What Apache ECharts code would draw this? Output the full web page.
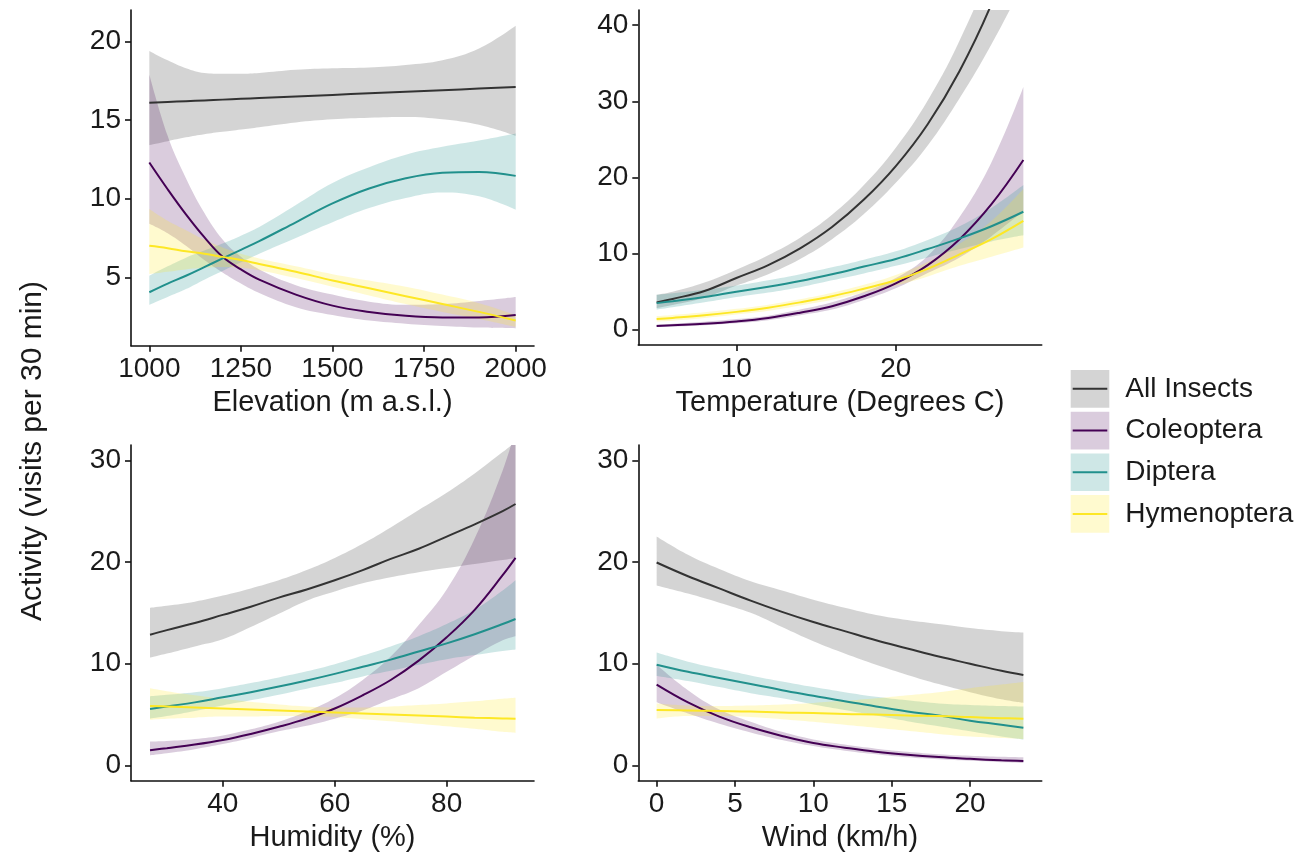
<!DOCTYPE html>
<html>
<head>
<meta charset="utf-8">
<script src="https://cdn.jsdelivr.net/npm/echarts@6/dist/echarts.min.js"></script>
<style>html,body{margin:0;padding:0;background:#fff}#chart{width:1315px;height:859px}</style>
</head>
<body>
<div id="chart"></div>
<script>
// ---------- groups ----------
const groups = ['All Insects', 'Coleoptera', 'Diptera', 'Hymenoptera'];

// ---------- Panel 1: Elevation ----------
const elevX = [1000, 1050, 1100, 1150, 1200, 1250, 1300, 1400, 1500, 1600, 1700, 1800, 1900, 2000];
const elevAllFit = [16.1, 16.15, 16.2, 16.25, 16.3, 16.35, 16.4, 16.5, 16.6, 16.7, 16.8, 16.9, 17.0, 17.1];
const elevAllHi = [19.4, 18.8, 18.3, 18.0, 17.95, 17.95, 18.0, 18.2, 18.3, 18.35, 18.5, 18.8, 19.55, 21.0];
const elevAllLo = [13.4, 13.65, 13.9, 14.1, 14.25, 14.4, 14.55, 14.85, 15.05, 15.15, 15.2, 15.05, 14.7, 14.0];
const elevColFit = [12.3, 10.6, 9.0, 7.55, 6.3, 5.5, 4.85, 3.9, 3.2, 2.8, 2.55, 2.45, 2.45, 2.6];
const elevColHi = [17.9, 14.0, 11.3, 9.1, 7.4, 6.3, 5.5, 4.5, 3.9, 3.45, 3.25, 3.3, 3.5, 3.75];
const elevColLo = [8.4, 7.8, 7.0, 6.1, 5.3, 4.6, 4.0, 3.1, 2.6, 2.25, 2.05, 1.9, 1.8, 1.75];
const elevDipFit = [4.05, 4.6, 5.1, 5.65, 6.2, 6.75, 7.3, 8.5, 9.7, 10.65, 11.3, 11.65, 11.7, 11.45];
const elevDipHi = [5.1, 5.7, 6.25, 6.7, 7.15, 7.65, 8.2, 9.6, 11.0, 12.0, 12.8, 13.3, 13.7, 14.15];
const elevDipLo = [3.25, 3.75, 4.25, 4.85, 5.4, 5.95, 6.5, 7.5, 8.5, 9.4, 10.05, 10.4, 10.15, 9.3];
const elevHymFit = [7.0, 6.85, 6.65, 6.5, 6.3, 6.1, 5.85, 5.35, 4.8, 4.3, 3.8, 3.3, 2.8, 2.25];
const elevHymHi = [9.35, 8.6, 8.0, 7.4, 6.9, 6.5, 6.2, 5.7, 5.2, 4.8, 4.4, 3.9, 3.35, 2.6];
const elevHymLo = [5.2, 5.35, 5.5, 5.6, 5.65, 5.6, 5.45, 4.95, 4.4, 3.85, 3.3, 2.8, 2.35, 1.85];
const elevTicksX = [1000, 1250, 1500, 1750, 2000];
const elevTicksY = [5, 10, 15, 20];

// ---------- Panel 2: Temperature ----------
const tempX = [5, 6, 8, 10, 12, 14, 16, 18, 20, 22, 24, 26, 28];
const tempAllFit = [3.6, 4.05, 5.1, 6.8, 8.5, 10.7, 13.5, 17.1, 21.5, 27.0, 34.0, 42.8, 54.0];
const tempAllHi = [4.6, 5.0, 6.2, 7.9, 9.8, 12.1, 15.1, 19.0, 23.9, 30.1, 38.0, 48.0, 62.0];
const tempAllLo = [2.85, 3.25, 4.2, 5.8, 7.3, 9.3, 11.9, 15.2, 19.3, 24.2, 30.4, 37.5, 45.5];
const tempColFit = [0.5, 0.6, 0.8, 1.1, 1.55, 2.25, 3.1, 4.4, 6.1, 8.5, 11.9, 16.5, 22.3];
const tempColHi = [0.7, 0.8, 1.05, 1.4, 1.85, 2.65, 3.6, 4.95, 6.8, 9.7, 14.8, 22.0, 31.9];
const tempColLo = [0.35, 0.42, 0.6, 0.85, 1.25, 1.9, 2.65, 3.9, 5.45, 7.45, 9.5, 12.3, 15.6];
const tempDipFit = [3.5, 3.75, 4.3, 5.0, 5.65, 6.4, 7.3, 8.3, 9.3, 10.6, 12.0, 13.6, 15.5];
const tempDipHi = [4.6, 4.8, 5.25, 5.8, 6.5, 7.3, 8.2, 9.2, 10.3, 11.8, 13.6, 16.0, 19.0];
const tempDipLo = [2.65, 2.95, 3.6, 4.3, 4.9, 5.6, 6.5, 7.4, 8.4, 9.5, 10.6, 11.6, 12.4];
const tempHymFit = [1.4, 1.55, 1.9, 2.35, 2.9, 3.6, 4.4, 5.4, 6.5, 8.0, 9.9, 11.9, 14.3];
const tempHymHi = [1.8, 1.95, 2.3, 2.75, 3.3, 4.0, 4.85, 5.9, 7.2, 8.9, 11.3, 14.3, 18.5];
const tempHymLo = [1.1, 1.2, 1.55, 2.0, 2.5, 3.2, 3.95, 4.9, 5.8, 7.0, 8.4, 9.6, 10.8];
const tempTicksX = [10, 20];
const tempTicksY = [0, 10, 20, 30, 40];

// ---------- Panel 3: Humidity ----------
const humX = [27, 30, 35, 40, 45, 50, 55, 60, 65, 70, 75, 80, 85, 90, 92.3];
const humAllFit = [12.85, 13.3, 14.0, 14.8, 15.6, 16.5, 17.3, 18.2, 19.2, 20.3, 21.3, 22.5, 23.7, 25.0, 25.7];
const humAllHi = [15.5, 15.7, 16.1, 16.7, 17.4, 18.2, 19.2, 20.4, 21.8, 23.4, 25.1, 26.8, 28.7, 30.8, 31.8];
const humAllLo = [10.6, 11.0, 11.7, 12.4, 13.6, 14.9, 16.2, 17.1, 17.9, 18.5, 19.0, 19.4, 19.8, 20.2, 20.4];
const humColFit = [1.5, 1.7, 2.05, 2.5, 3.1, 3.8, 4.6, 5.6, 6.9, 8.4, 10.3, 12.6, 15.3, 18.7, 20.4];
const humColHi = [2.35, 2.4, 2.6, 2.95, 3.55, 4.3, 5.3, 6.6, 8.4, 10.7, 13.8, 17.3, 22.3, 29.0, 33.0];
const humColLo = [1.0, 1.2, 1.6, 2.1, 2.7, 3.35, 3.9, 4.6, 5.4, 6.5, 7.6, 9.2, 10.8, 12.3, 12.7];
const humDipFit = [5.55, 5.8, 6.2, 6.7, 7.2, 7.75, 8.35, 9.0, 9.7, 10.4, 11.2, 12.0, 12.9, 13.9, 14.4];
const humDipHi = [6.8, 6.95, 7.2, 7.6, 8.1, 8.65, 9.25, 9.95, 10.8, 11.7, 12.7, 13.9, 15.3, 17.2, 18.2];
const humDipLo = [4.6, 4.85, 5.35, 5.9, 6.4, 6.95, 7.55, 8.1, 8.75, 9.3, 9.9, 10.45, 10.85, 11.25, 11.4];
const humHymFit = [5.85, 5.8, 5.7, 5.6, 5.5, 5.4, 5.3, 5.2, 5.1, 5.0, 4.9, 4.8, 4.7, 4.62, 4.58];
const humHymHi = [7.6, 7.3, 6.9, 6.55, 6.25, 6.0, 5.8, 5.7, 5.7, 5.8, 5.95, 6.1, 6.3, 6.55, 6.65];
const humHymLo = [4.5, 4.6, 4.7, 4.8, 4.8, 4.85, 4.8, 4.75, 4.55, 4.35, 4.1, 3.85, 3.6, 3.3, 3.2];
const humTicksX = [40, 60, 80];
const humTicksY = [0, 10, 20, 30];

// ---------- Panel 4: Wind ----------
const windX = [0, 2, 4, 6, 8, 10, 12, 14, 16, 18, 20, 22, 23.4];
const windAllFit = [19.95, 18.6, 17.4, 16.2, 15.1, 14.1, 13.2, 12.3, 11.5, 10.7, 10.0, 9.3, 8.9];
const windAllHi = [22.5, 20.7, 19.3, 18.1, 17.2, 16.3, 15.5, 14.8, 14.3, 13.9, 13.5, 13.2, 13.07];
const windAllLo = [17.7, 16.9, 16.0, 15.0, 13.6, 12.2, 11.0, 9.9, 8.9, 8.0, 7.2, 6.5, 6.15];
const windColFit = [7.95, 6.2, 4.8, 3.75, 2.9, 2.2, 1.75, 1.35, 1.05, 0.82, 0.65, 0.5, 0.43];
const windColHi = [9.9, 7.4, 5.5, 4.3, 3.3, 2.55, 2.05, 1.65, 1.35, 1.1, 0.95, 0.85, 0.8];
const windColLo = [6.2, 5.1, 4.1, 3.25, 2.5, 1.9, 1.45, 1.1, 0.8, 0.6, 0.45, 0.32, 0.25];
const windDipFit = [9.9, 9.2, 8.6, 8.0, 7.4, 6.85, 6.3, 5.8, 5.3, 4.9, 4.4, 4.0, 3.7];
const windDipHi = [11.1, 10.2, 9.5, 8.85, 8.25, 7.7, 7.2, 6.75, 6.4, 6.1, 5.95, 5.85, 5.8];
const windDipLo = [8.8, 8.3, 7.7, 7.1, 6.6, 6.0, 5.45, 4.9, 4.35, 3.85, 3.35, 2.85, 2.55];
const windHymFit = [5.45, 5.4, 5.35, 5.3, 5.2, 5.15, 5.05, 5.0, 4.9, 4.85, 4.75, 4.65, 4.6];
const windHymHi = [6.1, 5.9, 5.85, 5.9, 6.0, 6.15, 6.35, 6.6, 6.9, 7.2, 7.6, 7.95, 8.2];
const windHymLo = [4.6, 4.85, 4.85, 4.75, 4.55, 4.3, 4.0, 3.7, 3.4, 3.1, 2.85, 2.7, 2.6];
const windTicksX = [0, 5, 10, 15, 20];
const windTicksY = [0, 10, 20, 30];

// ---------- styles ----------
const lineColors = ['#333333', '#440154', '#21908C', '#FDE725'];
const bandColors = ['rgba(51,51,51,0.21)', 'rgba(68,1,84,0.2)', 'rgba(33,144,140,0.22)', 'rgba(253,231,37,0.22)'];
const FONT = 'Liberation Sans';
const TXT = '#1a1a1a';

const panels = [
  { x: elevX, fits: [elevAllFit, elevColFit, elevDipFit, elevHymFit], his: [elevAllHi, elevColHi, elevDipHi, elevHymHi], los: [elevAllLo, elevColLo, elevDipLo, elevHymLo],
    name: 'Elevation (m a.s.l.)', xMin: 950, xMax: 2050, xTicks: elevTicksX, yMin: 0.65, yMax: 22, yTicks: elevTicksY,
    grid: { left: 131, top: 10, width: 403, height: 335.7 } },
  { x: tempX, fits: [tempAllFit, tempColFit, tempDipFit, tempHymFit], his: [tempAllHi, tempColHi, tempDipHi, tempHymHi], los: [tempAllLo, tempColLo, tempDipLo, tempHymLo],
    name: 'Temperature (Degrees C)', xMin: 3.85, xMax: 29.15, xTicks: tempTicksX, yMin: -2, yMax: 42, yTicks: tempTicksY,
    grid: { left: 638.3, top: 10, width: 403.4, height: 335 } },
  { x: humX, fits: [humAllFit, humColFit, humDipFit, humHymFit], his: [humAllHi, humColHi, humDipHi, humHymHi], los: [humAllLo, humColLo, humDipLo, humHymLo],
    name: 'Humidity (%)', xMin: 23.6, xMax: 95.6, xTicks: humTicksX, yMin: -1.5, yMax: 31.5, yTicks: humTicksY,
    grid: { left: 131, top: 445, width: 403, height: 335.7 } },
  { x: windX, fits: [windAllFit, windColFit, windDipFit, windHymFit], his: [windAllHi, windColHi, windDipHi, windHymHi], los: [windAllLo, windColLo, windDipLo, windHymLo],
    name: 'Wind (km/h)', xMin: -1.17, xMax: 24.57, xTicks: windTicksX, yMin: -1.5, yMax: 31.5, yTicks: windTicksY,
    grid: { left: 638.3, top: 445, width: 403.4, height: 335.7 } }
];

const axisLineStyle = { color: '#111', width: 1.6 };
const grids = [], xAxes = [], yAxes = [], series = [];

panels.forEach((p, i) => {
  grids.push(Object.assign({ show: false, containLabel: false, outerBoundsMode: 'none' }, p.grid));
  xAxes.push({
    gridIndex: i, type: 'value', min: p.xMin, max: p.xMax,
    name: p.name, nameLocation: 'middle', nameGap: 43,
    nameTextStyle: { fontSize: 29, color: TXT, fontFamily: FONT },
    axisLine: { show: true, onZero: false, lineStyle: axisLineStyle },
    axisTick: { show: true, length: 6, lineStyle: axisLineStyle, customValues: p.xTicks },
    axisLabel: { show: true, customValues: p.xTicks, fontSize: 28, color: TXT, fontFamily: FONT, margin: 10,
                 formatter: v => String(v) },
    splitLine: { show: false }
  });
  yAxes.push({
    gridIndex: i, type: 'value', min: p.yMin, max: p.yMax,
    axisLine: { show: true, onZero: false, lineStyle: axisLineStyle },
    axisTick: { show: true, length: 6, lineStyle: axisLineStyle, customValues: p.yTicks },
    axisLabel: { show: true, customValues: p.yTicks, fontSize: 28, color: TXT, fontFamily: FONT, margin: 10,
                 formatter: v => String(v) },
    splitLine: { show: false }
  });
  // confidence bands: lower bound + stacked band width.
  // data stored as [y, x] with encode so that the stacked dimension is y.
  p.fits.forEach((f, g) => {
    const stackId = 'band-' + i + '-' + g;
    series.push({
      type: 'line', name: groups[g] + ' lower', xAxisIndex: i, yAxisIndex: i, stack: stackId,
      encode: { x: 1, y: 0 },
      data: p.x.map((xv, k) => [p.los[g][k], xv]),
      symbol: 'none', smooth: 0.4, silent: true, z: 2,
      lineStyle: { width: 0, opacity: 0 }
    });
    series.push({
      type: 'line', name: groups[g] + ' band', xAxisIndex: i, yAxisIndex: i, stack: stackId,
      encode: { x: 1, y: 0 },
      data: p.x.map((xv, k) => [p.his[g][k] - p.los[g][k], xv]),
      symbol: 'none', smooth: 0.4, silent: true, z: 2,
      lineStyle: { width: 0, opacity: 0 },
      areaStyle: { color: bandColors[g], opacity: 1 }
    });
  });
  // fitted lines
  p.fits.forEach((f, g) => {
    series.push({
      type: 'line', name: groups[g], xAxisIndex: i, yAxisIndex: i,
      data: p.x.map((xv, k) => [xv, f[k]]),
      symbol: 'none', smooth: 0.4, silent: true, z: 3,
      lineStyle: { color: lineColors[g], width: 2 },
      itemStyle: { color: lineColors[g] }
    });
  });
});

const legendCommon = {
  orient: 'vertical', left: 1070.7, top: 370, padding: 0,
  itemWidth: 38.6, itemHeight: 37.7, itemGap: 4, selectedMode: false
};

const option = {
  animation: false,
  backgroundColor: '#ffffff',
  grid: grids, xAxis: xAxes, yAxis: yAxes, series: series,
  legend: [
    Object.assign({}, legendCommon, {
      icon: 'rect',
      data: groups.map((n, g) => ({ name: n, itemStyle: { color: bandColors[g], borderWidth: 0 } })),
      textStyle: { fontSize: 28, color: TXT, fontFamily: FONT, padding: [0, 0, 0, 11] }
    }),
    Object.assign({}, legendCommon, {
      z: 6,
      icon: 'path://M0,0M2,17.85L36.6,17.85L36.6,19.85L2,19.85ZM38.6,37.7',
      data: groups.map((n, g) => ({ name: n, itemStyle: { color: lineColors[g], borderWidth: 0 } })),
      textStyle: { fontSize: 28, color: 'rgba(0,0,0,0)', fontFamily: FONT, padding: [0, 0, 0, 11] }
    })
  ],
  graphic: [{
    type: 'text', x: 33, y: 451, rotation: Math.PI / 2,
    style: { text: 'Activity (visits per 30 min)', font: '30px "Liberation Sans"', fill: TXT, align: 'center', verticalAlign: 'middle' }
  }]
};

const chart = echarts.init(document.getElementById('chart'), null, { renderer: 'canvas' });
chart.setOption(option);
</script>
</body>
</html>
